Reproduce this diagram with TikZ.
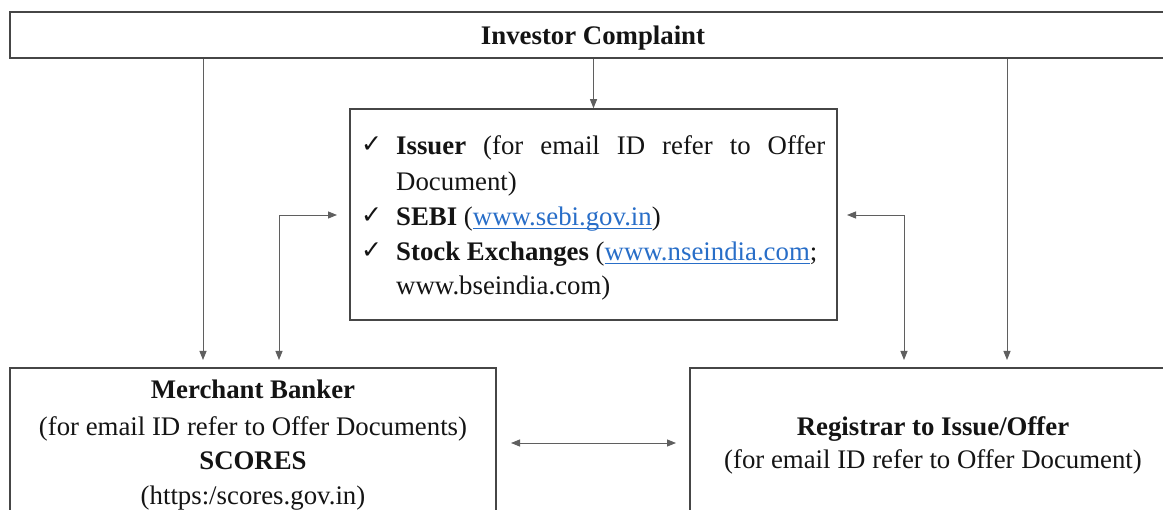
\documentclass[tikz,border=0pt]{standalone}
\usepackage{fontspec}
\setmainfont{Liberation Serif}
\newfontfamily\symfont{DejaVu Sans}
\usetikzlibrary{arrows.meta}
\definecolor{boxgray}{RGB}{70,70,70}
\definecolor{arrgray}{RGB}{95,95,95}
\definecolor{linkblue}{RGB}{40,110,200}
\newcommand\lnk[1]{\setbox0\hbox{#1}\rlap{\textcolor{linkblue}{\rule[-3.2pt]{\wd0}{1.1pt}}}\textcolor{linkblue}{#1}}
\newcommand\chk{{\symfont\fontsize{25}{25}\selectfont ✓}}
\begin{document}
\begin{tikzpicture}[x=1pt,y=1pt,
  box/.style={draw=boxgray,line width=1.6pt,rectangle,inner sep=0pt},
  txt/.style={inner sep=0pt,font=\fontsize{26.8}{32}\selectfont,text=black!92},
  chkn/.style={inner sep=0pt,anchor=base west,text=black!92},
  arrd/.style={draw=arrgray,line width=0.9pt,-{Triangle[length=9pt,width=7pt]}},
  arrb/.style={draw=arrgray,line width=0.9pt,{Triangle[length=9pt,width=7pt]}-{Triangle[length=9pt,width=7pt]}}]
\useasboundingbox (0,0) rectangle (1163,-510);
\clip (0,0) rectangle (1163,-510);
\fill[white] (0,0) rectangle (1163,-510);
% boxes
\node[box,minimum width=1166pt,minimum height=46pt] (top) at (593,-35) {};
\node[box,minimum width=487pt,minimum height=211pt] (cen) at (593.5,-214.5) {};
\node[box,minimum width=486pt,minimum height=160pt] (mb) at (253,-448) {};
\node[box,minimum width=486pt,minimum height=160pt] (rt) at (933,-448) {};
% top text
\node[txt,anchor=base] (topt) at (593,-45) {\textbf{Investor Complaint}};
% center text
\node[chkn] (k1) at (361,-153) {\chk};
\node[chkn] (k3) at (361,-224) {\chk};
\node[chkn] (k4) at (361,-258.5) {\chk};
\node[txt,anchor=base west] (l1) at (396,-155) {\makebox[429pt][s]{\textbf{Issuer} (for email ID refer to Offer}};
\node[txt,anchor=base west] (l2) at (396,-190.5) {Document)};
\node[txt,anchor=base west] (l3) at (396,-226) {\textbf{SEBI} (\lnk{www.sebi.gov.in})};
\node[txt,anchor=base west] (l4) at (396,-260.5) {\textbf{Stock Exchanges} (\lnk{www.nseindia.com};};
\node[txt,anchor=base west] (l5) at (396,-295) {www.bseindia.com)};
% bottom-left text
\node[txt,anchor=base] (m1) at (253,-399) {\textbf{Merchant Banker}};
\node[txt,anchor=base] (m2) at (253,-436) {(for email ID refer to Offer Documents)};
\node[txt,anchor=base] (m3) at (253,-470) {\textbf{SCORES}};
\node[txt,anchor=base] (m4) at (253,-505) {(https:/scores.gov.in)};
% bottom-right text
\node[txt,anchor=base] (r1) at (933,-436) {\textbf{Registrar to Issue/Offer}};
\node[txt,anchor=base] (r2) at (933,-469) {(for email ID refer to Offer Document)};
% connector ends
\coordinate (a1) at (203,-360);
\coordinate (a2) at (279,-360);
\coordinate (a2e) at (337,-215);
\coordinate (a3) at (904,-360);
\coordinate (a3e) at (847,-215);
\coordinate (a4) at (1007,-360);
\coordinate (h1) at (511,-443);
\coordinate (h2) at (676,-443);
% connectors
\draw[arrd] (top.south -| cen.north) -- (cen.north);
\draw[arrd] (top.south -| a1) -- (a1);
\draw[arrd] (top.south -| a4) -- (a4);
\draw[arrb] (a2) |- (a2e);
\draw[arrb] (a3e) -| (a3);
\draw[arrb] (h1) -- (h2);
\end{tikzpicture}
\end{document}
